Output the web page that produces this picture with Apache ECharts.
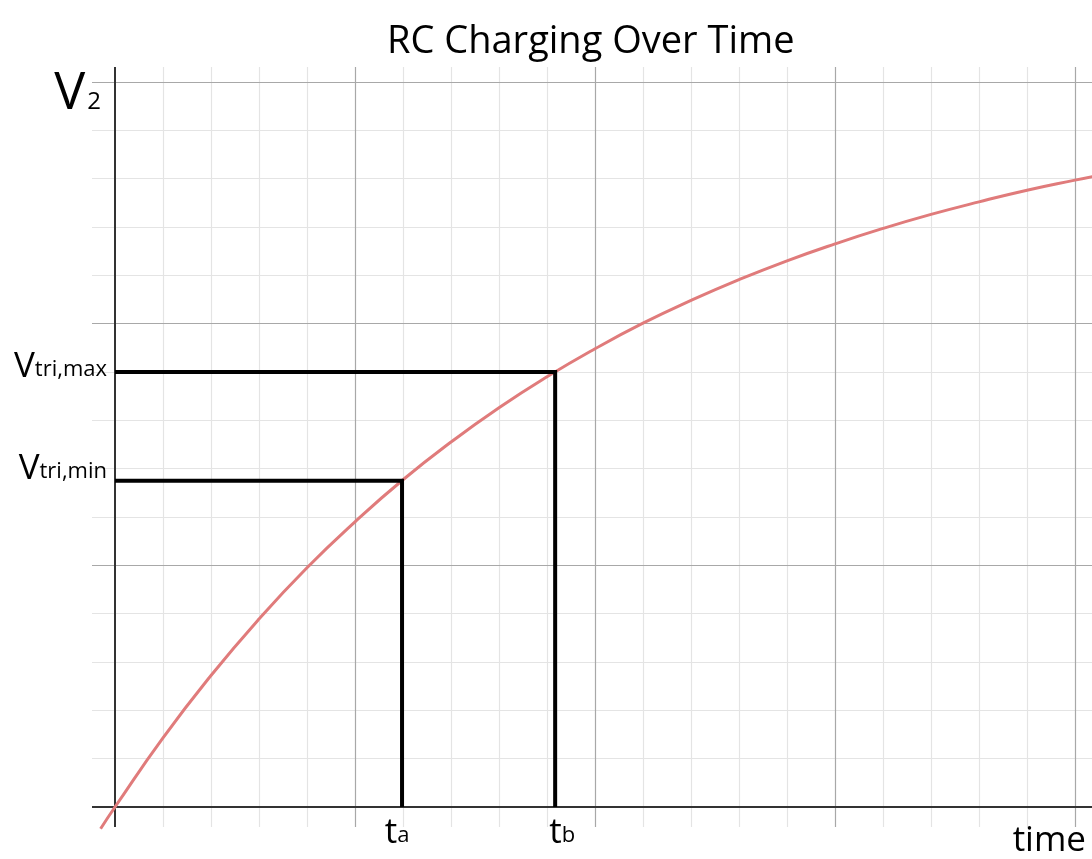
<!DOCTYPE html>
<html>
<head>
<meta charset="utf-8">
<script src="https://cdn.jsdelivr.net/npm/echarts@6/dist/echarts.min.js"></script>
<style>
html,body{margin:0;padding:0;background:#fff;}
#chart{width:1092px;height:859px;}
</style>
</head>
<body>
<div id="chart"></div>
<script>
// ---- data ----
const titleText = 'RC Charging Over Time';
const timeValues = [-0.3, 0, 1, 2, 3, 4, 5, 6, 7, 8, 9, 10, 11, 12, 13, 14, 15, 16, 17, 18, 19, 20, 20.4];
const voltageValues = [-0.45, 0, 1.43, 2.72, 3.89, 4.95, 5.90, 6.77, 7.55, 8.26, 8.90, 9.48, 10.01, 10.48, 10.91, 11.30, 11.65, 11.97, 12.26, 12.52, 12.76, 12.97, 13.05];
const tA = 5.98, tB = 9.17;
const vTriMin = 6.75, vTriMax = 9.0;
const vTop = 15;
const xMajorTicks = [5, 10, 15, 20];
const xMinorTicks = [1,2,3,4,6,7,8,9,11,12,13,14,16,17,18,19];
const yMajorTicks = [5, 10, 15];
const yMinorTicks = [1,2,3,4,6,7,8,9,11,12,13,14];
const xRange = [-0.479, 20.354];
const yRange = [-0.414, 15.31];

const FONT = '"Open Sans", "Noto Sans", sans-serif';

function vLine(x, style) {
  return [{coord: [x, yRange[0]], lineStyle: style}, {coord: [x, yRange[1]]}];
}
function hLine(y, style) {
  return [{coord: [xRange[0], y], lineStyle: style}, {coord: [xRange[1], y]}];
}
const minorStyle = {color: '#e4e4e4', width: 1.2, type: 'solid'};
const majorStyle = {color: '#a8a8a8', width: 1.2, type: 'solid'};
const axisStyle = {color: '#333333', width: 2, type: 'solid'};

const minorLines = [];
xMinorTicks.forEach(x => minorLines.push(vLine(x, minorStyle)));
yMinorTicks.forEach(y => minorLines.push(hLine(y, minorStyle)));
const majorLines = [];
xMajorTicks.forEach(x => majorLines.push(vLine(x, majorStyle)));
yMajorTicks.forEach(y => majorLines.push(hLine(y, majorStyle)));
majorLines.push(vLine(0, axisStyle));
majorLines.push(hLine(0, axisStyle));

const curve = timeValues.map((t, i) => [t, voltageValues[i]]);

const labelPoints = [
  {value: [0, vTop], label: {position: 'left', distance: 14, offset: [0, 10],
    formatter: '{big|V}{sub2|2}'}},
  {value: [0, vTriMax], label: {position: 'left', distance: 8, offset: [0, -7],
    formatter: '{mid|V}{sub|tri,max}'}},
  {value: [0, vTriMin], label: {position: 'left', distance: 8, offset: [0, -14],
    formatter: '{mid|V}{sub|tri,min}'}},
  {value: [tA, 0], label: {position: 'bottom', distance: 6, offset: [-5, -2],
    formatter: '{mid|t}{sub|a}'}},
  {value: [tB, 0], label: {position: 'bottom', distance: 6, offset: [7, -2],
    formatter: '{mid|t}{sub|b}'}},
  {value: [xRange[1], 0], label: {position: 'insideBottomRight', distance: 0, offset: [-6, 52],
    formatter: '{mid|time}'}}
];

const rich = {
  big: {fontSize: 52, fontFamily: FONT, color: '#000', verticalAlign: 'bottom', lineHeight: 56},
  mid: {fontSize: 35, fontFamily: FONT, color: '#000', verticalAlign: 'bottom', lineHeight: 40},
  sub: {fontSize: 22, fontFamily: FONT, color: '#000', verticalAlign: 'bottom', lineHeight: 36, padding: [0, 0, 4, 0]},
  sub2: {fontSize: 24, fontFamily: FONT, color: '#000', verticalAlign: 'bottom', lineHeight: 44, padding: [0, 0, 6, 2]}
};

const chart = echarts.init(document.getElementById('chart'), null, {renderer: 'canvas'});
chart.setOption({
  animation: false,
  backgroundColor: '#ffffff',
  title: {
    text: titleText, left: 382, top: 18,
    textStyle: {fontFamily: FONT, fontSize: 38, fontWeight: 'normal', color: '#000'}
  },
  grid: {left: 92, right: 0, top: 67, bottom: 32},
  xAxis: {type: 'value', min: xRange[0], max: xRange[1], show: false},
  yAxis: {type: 'value', min: yRange[0], max: yRange[1], show: false},
  series: [
    {
      type: 'line', data: [], silent: true, z: 0, zlevel: 0,
      markLine: {silent: true, z: 0, symbol: ['none', 'none'], label: {show: false}, animation: false, data: minorLines}
    },
    {
      type: 'line', data: [], silent: true, z: 1, zlevel: 0,
      markLine: {silent: true, z: 1, symbol: ['none', 'none'], label: {show: false}, animation: false, data: majorLines}
    },
    {
      type: 'line', data: curve, smooth: true, showSymbol: false, clip: false,
      lineStyle: {color: '#e07b7b', width: 3}, z: 3, zlevel: 1
    },
    {
      type: 'line', data: [[0, vTriMax], [tB, vTriMax], [tB, 0]], showSymbol: false,
      lineStyle: {color: '#000', width: 4, cap: 'butt', join: 'miter'}, z: 4, zlevel: 1
    },
    {
      type: 'line', data: [[0, vTriMin], [tA, vTriMin], [tA, 0]], showSymbol: false,
      lineStyle: {color: '#000', width: 4, cap: 'butt', join: 'miter'}, z: 4, zlevel: 1
    },
    {
      type: 'scatter', symbolSize: 0, silent: true, z: 5, zlevel: 1, clip: false,
      label: {show: true, color: '#000', opacity: 1, rich: rich},
      data: labelPoints
    }
  ]
});
</script>
</body>
</html>
